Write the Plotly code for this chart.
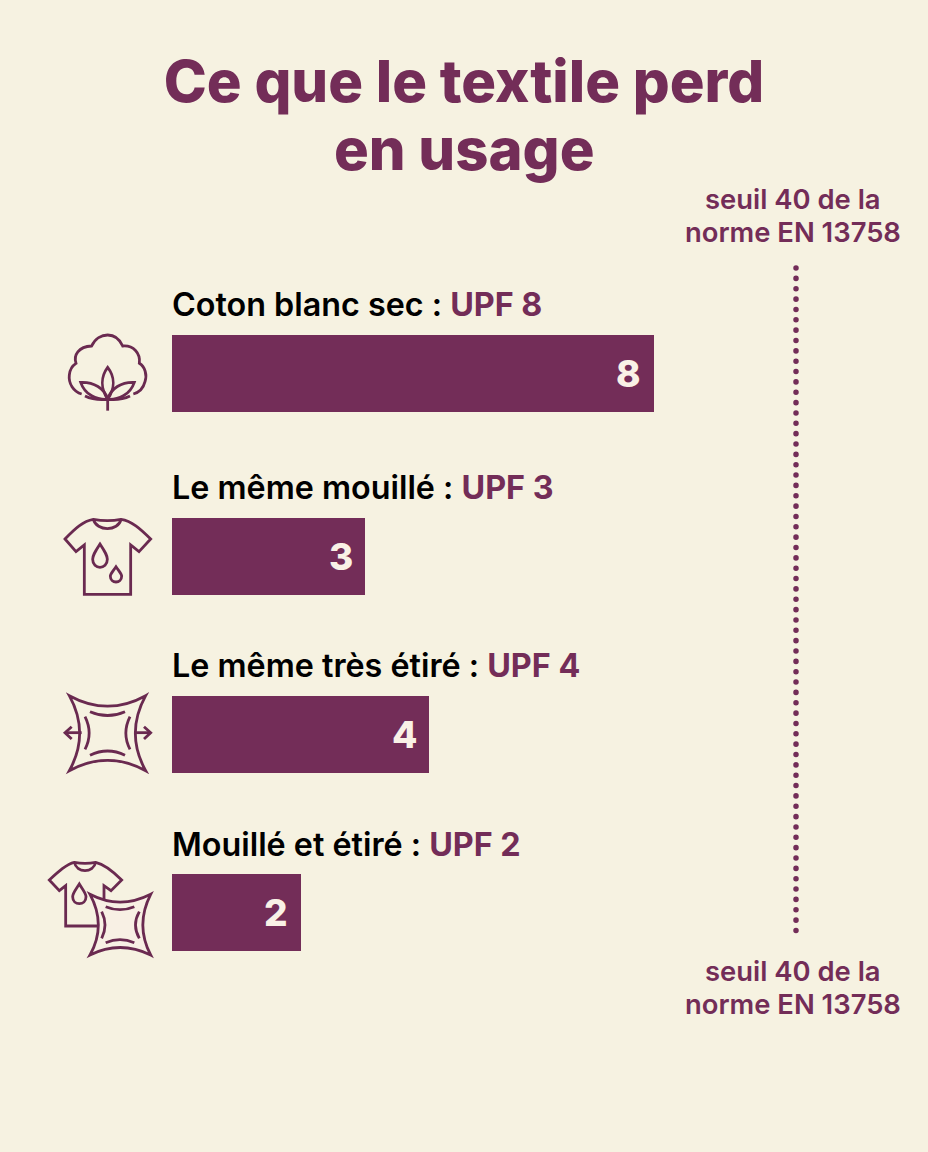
import re
import plotly.graph_objects as go

# ---- data ----
categories = ["Coton blanc sec", "Le même mouillé", "Le même très étiré", "Mouillé et étiré"]
upf_values = [8, 3, 4, 2]
# the picture does not draw bars strictly to scale: drawn lengths, in UPF units of 64 px
drawn_lengths = [7.53, 3.02, 4.02, 2.01]
threshold_value = 40
threshold_drawn_at = 9.75
threshold_lines = ["seuil 40 de la", "norme EN 13758"]
title_lines = ["Ce que le textile perd", "en usage"]

# ---- layout constants (pixels of the 928x1152 page) ----
W, H = 928, 1152
X0, UNIT = 172, 64
ROW_Y = [373, 556, 734, 912.5]
LABEL_Y = [304, 487, 665, 844]
BAR_H = 77
MAROON = "#732D58"
ICON = "#6A2A50"
BG = "#F6F2E1"
FONT = "Inter"

fig = go.Figure()
fig.add_trace(go.Bar(
    x=drawn_lengths, y=ROW_Y, base=0, orientation="h", width=BAR_H,
    marker=dict(color=MAROON, line=dict(width=0)),
    customdata=upf_values, hovertemplate="UPF %{customdata}<extra></extra>",
    showlegend=False,
))
fig.add_trace(go.Scatter(
    x=[threshold_drawn_at, threshold_drawn_at], y=[268, 937], mode="lines",
    line=dict(color=MAROON, width=5.5, dash="0.1px,10.25px"),
    hoverinfo="skip", showlegend=False,
))


def place(path, ox, oy, s=1 / 3):
    """Zoomed-crop path coordinates -> page pixels."""
    nums = iter(range(10**6))
    def rep(m):
        i = next(nums)
        v = float(m.group(0))
        return f"{(ox if i % 2 == 0 else oy) + v * s:.2f}"
    return re.sub(r"-?\d+(?:\.\d+)?", rep, path)


COTTON = [
    "M125 222 C100 215 85 190 88 165 C90 145 100 135 108 130 C100 105 115 80 155 78 C165 55 185 45 203 45 "
    "C225 45 240 60 248 78 C280 75 302 100 298 130 C315 140 322 165 315 185 C310 205 295 218 280 222",
    "M135 228 C155 238 180 240 203 238 C226 240 250 238 270 228",
    "M122 187 C160 185 195 205 203 238 C170 240 135 225 122 187 Z",
    "M283 187 C245 185 212 205 203 238 C235 240 270 225 283 187 Z",
    "M203 142 C225 170 225 205 203 238 C182 205 182 170 203 142 Z",
    "M203 238 L203 272",
]
TEE = [
    "M160 598 C130 603 105 625 75 657 L108 695 L133 675 L133 823 L272 823 L272 675 L297 695 L332 657 "
    "C300 625 275 603 243 598 C215 603 190 603 160 598 Z",
    "M160 598 C170 635 235 635 243 598",
    "M180 672 C165 695 158 705 158 718 C158 750 202 750 202 718 C202 705 195 695 180 672 Z",
    "M228 740 C218 755 211 762 211 768 C211 792 245 792 245 768 C245 762 238 755 228 740 Z",
]
STRETCH = [
    "M88 47 Q203 110 317 47 Q255 160 317 272 Q203 210 88 272 Q150 160 88 47 Z",
    "M150 95 Q203 118 255 95", "M150 226 Q203 200 255 226",
    "M135 110 Q160 160 135 208", "M270 110 Q245 160 270 208",
    "M125 158 L75 158", "M95 140 L75 158 L95 177",
    "M282 158 L332 158", "M312 140 L332 158 L312 177",
]
COMBO_TEE = [
    "M103 547 C80 552 55 575 28 600 L58 632 L77 617 L77 738 L192 738 L192 617 L213 632 L245 600 "
    "C220 575 190 552 167 547 C145 551 125 551 103 547 Z",
    "M103 547 C110 580 160 580 167 547",
    "M118 612 C105 632 98 640 98 650 C98 678 138 678 138 650 C138 640 130 632 118 612 Z",
]
COMBO_PILLOW = [
    "M197 680 Q240 698 283 680", "M197 788 Q240 770 283 788",
    "M185 695 Q205 735 185 775", "M298 695 Q275 735 298 775",
]
COMBO_OUTLINE = "M150 643 Q240 690 332 643 Q285 735 332 825 Q240 780 150 825 Q200 735 150 643 Z"

shapes = []
def add(paths, ox, oy, fill=None):
    for p in paths:
        shapes.append(dict(
            type="path", xref="x2", yref="y2", path=place(p, ox, oy),
            line=dict(color=ICON, width=2.8), fillcolor=fill or "rgba(0,0,0,0)", layer="above",
        ))

add(COTTON, 40, 320)
add(TEE, 40, 320)
add(STRETCH, 40, 680)
add(COMBO_TEE, 40, 680)
add([COMBO_OUTLINE], 40, 680, fill="#F8F0E4")
add(COMBO_PILLOW, 40, 680)

annotations = []
for name, v, y in zip(categories, upf_values, LABEL_Y):
    annotations.append(dict(
        x=0, y=y, xref="x", yref="y", xanchor="left", yanchor="middle", xshift=-2, showarrow=False,
        text=f'{name} : <span style="color:{MAROON}"><b>UPF {v}</b></span>',
        font=dict(family=FONT, size=32.3, color="#000000", weight=600),
    ))
for v, length, y in zip(upf_values, drawn_lengths, ROW_Y):
    annotations.append(dict(
        x=length, y=y, xref="x", yref="y", xanchor="right", yanchor="middle", xshift=-10.5, showarrow=False,
        text=str(v), font=dict(family=FONT, size=37, color="#F9F1E6", weight=800),
    ))
for y0 in (199, 971):
    for i, line in enumerate(threshold_lines):
        annotations.append(dict(
            x=793, y=y0 + 33 * i, xref="x2", yref="y2", xanchor="center", yanchor="middle", showarrow=False,
            text=line, font=dict(family=FONT, size=27.4, color=MAROON, weight=600),
        ))
annotations.append(dict(
    x=464, y=149, xref="x2", yref="y2", xanchor="center", yanchor="middle", showarrow=False,
    text=title_lines[1], font=dict(family=FONT, size=58, color=MAROON, weight=800),
))

fig.update_layout(
    width=W, height=H, margin=dict(l=0, r=0, t=0, b=0),
    paper_bgcolor=BG, plot_bgcolor=BG, showlegend=False, bargap=0,
    title=dict(
        text=title_lines[0], x=464 / W, xanchor="center", xref="paper",
        y=1 - 82 / H, yanchor="middle", yref="container",
        font=dict(family=FONT, size=58, color=MAROON, weight=800),
    ),
    xaxis=dict(range=[-X0 / UNIT, (W - X0) / UNIT], domain=[0, 1], visible=False, fixedrange=True),
    yaxis=dict(range=[H, 0], domain=[0, 1], visible=False, fixedrange=True),
    xaxis2=dict(range=[0, W], domain=[0, 1], visible=False, overlaying="x", fixedrange=True),
    yaxis2=dict(range=[H, 0], domain=[0, 1], visible=False, overlaying="y", fixedrange=True),
    shapes=shapes, annotations=annotations,
)
# make the secondary pixel axes exist
fig.add_trace(go.Scatter(x=[0], y=[0], xaxis="x2", yaxis="y2", mode="markers",
                         marker=dict(opacity=0), hoverinfo="skip", showlegend=False))
post = (
    "document.body.style.margin='0';document.body.style.background='%s';"
    "document.querySelectorAll('.js-line').forEach(function(e){e.style.strokeLinecap='round';});" % BG
)
fig.write_html("out.html", config=dict(displayModeBar=False), post_script=post)
